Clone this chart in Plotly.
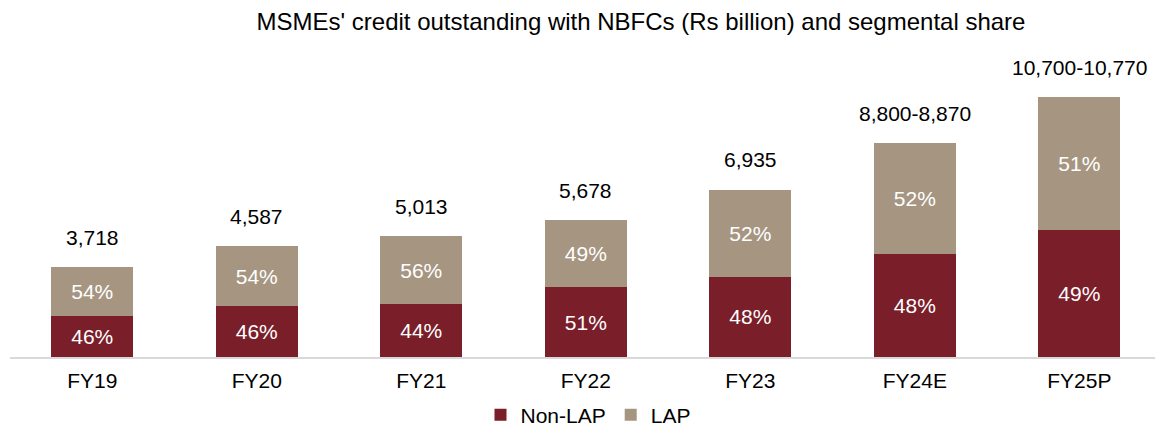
import plotly.graph_objects as go

# Fiscal years on the category axis
years = ["FY19", "FY20", "FY21", "FY22", "FY23", "FY24E", "FY25P"]

# Total MSME credit outstanding with NBFCs (Rs billion); estimates are given as a range
total_low = [3718, 4587, 5013, 5678, 6935, 8800, 10700]
total_high = [3718, 4587, 5013, 5678, 6935, 8870, 10770]

# Segmental share of the total (%)
non_lap_share = [46, 46, 44, 51, 48, 48, 49]
lap_share = [54, 54, 56, 49, 52, 52, 51]

NON_LAP_COLOR = "#7A1E2A"
LAP_COLOR = "#A69681"
FONT = "Liberation Sans, Arial, sans-serif"
LABEL_SIZE = 21

non_lap_vals = [t * s / 100 for t, s in zip(total_high, non_lap_share)]
lap_vals = [t * s / 100 for t, s in zip(total_high, lap_share)]

fig = go.Figure()
for name, vals, share, color in [
    ("Non-LAP", non_lap_vals, non_lap_share, NON_LAP_COLOR),
    ("LAP", lap_vals, lap_share, LAP_COLOR),
]:
    fig.add_trace(go.Bar(
        x=years, y=vals, name=name,
        marker=dict(color=color, line=dict(width=0)),
        customdata=share,
        texttemplate="%{customdata}%", textposition="inside",
        insidetextanchor="middle", textangle=0,
        textfont=dict(color="white", size=LABEL_SIZE, family=FONT),
        hoverinfo="skip",
    ))

# Total labels above each stacked bar
for yr, lo, hi in zip(years, total_low, total_high):
    label = f"{hi:,}" if lo == hi else f"{lo:,}-{hi:,}"
    fig.add_annotation(
        x=yr, y=hi, text=label, showarrow=False,
        yanchor="middle", yshift=30,
        font=dict(size=LABEL_SIZE, color="#000000", family=FONT),
    )

fig.update_layout(
    width=1155, height=428,
    margin=dict(l=10, r=0, t=60, b=71),
    paper_bgcolor="white", plot_bgcolor="white",
    barmode="stack", bargap=0.5,
    font=dict(family=FONT, size=LABEL_SIZE, color="#000000"),
    title=dict(
        text="MSMEs' credit outstanding with NBFCs (Rs billion) and segmental share",
        x=641 / 1155, xanchor="center", y=1 - 22 / 428, yanchor="middle",
        font=dict(size=24, color="#000000", family=FONT),
    ),
    showlegend=True,
    legend=dict(
        orientation="h", xref="container", yref="container",
        x=588 / 1155, xanchor="center", y=13 / 428, yanchor="middle",
        font=dict(size=LABEL_SIZE, family=FONT), traceorder="normal",
        itemwidth=30,
    ),
    xaxis=dict(
        range=[-0.5, 6.46], showgrid=False, showline=True,
        linecolor="#D9D9D9", linewidth=2, ticks="", ticklabelstandoff=4,
        tickfont=dict(size=LABEL_SIZE, family=FONT, color="#000000"),
    ),
    yaxis=dict(
        range=[0, 12324], visible=False, showgrid=False, zeroline=False,
    ),
)

fig.write_html("out.html")
